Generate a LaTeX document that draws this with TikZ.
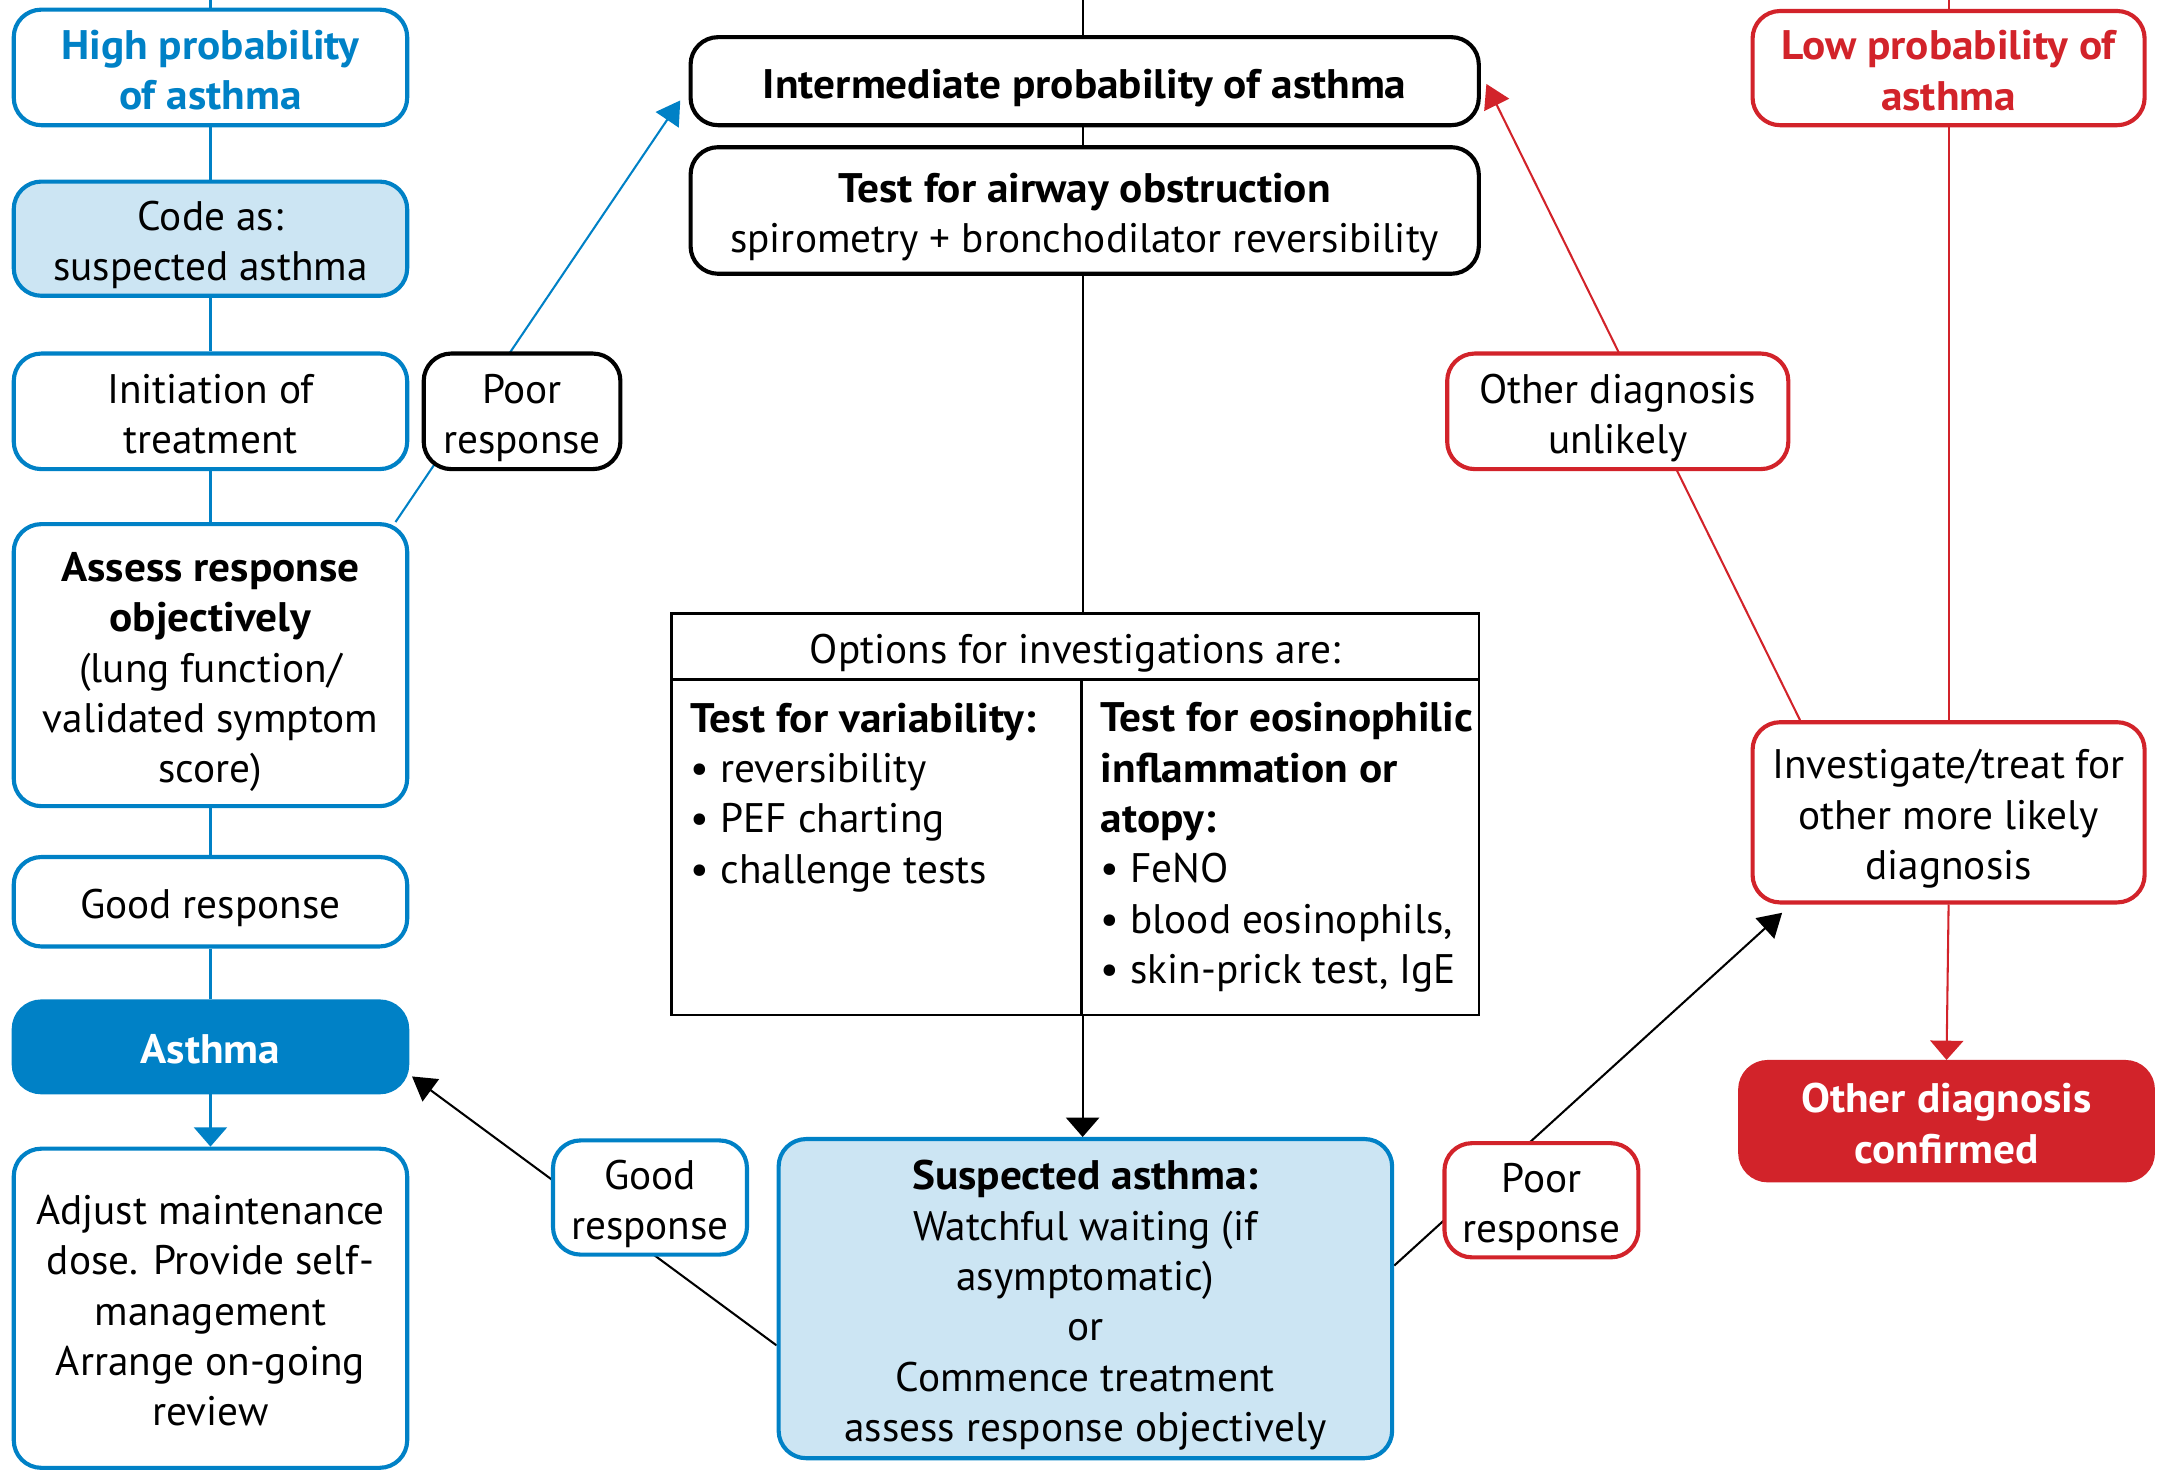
\documentclass[tikz,border=0pt]{standalone}
\usepackage{fontspec}
\setmainfont{PT Sans}[BoldFeatures={FakeStretch=1.05}]
\usetikzlibrary{arrows.meta,calc,backgrounds}
\definecolor{nblue}{HTML}{0081C6}
\definecolor{lblue}{HTML}{CCE5F3}
\definecolor{nred}{HTML}{D2232A}
\newcommand\bx[1]{\raisebox{-5pt}[\height][\depth]{\begin{tabular}{@{}c@{}}#1\end{tabular}}}
\begin{document}
\begin{tikzpicture}[x=1pt,y=-1pt,
  txt/.style={font=\fontsize{30}{36.6}\selectfont, align=center, inner sep=0pt},
  bold/.style={font=\fontsize{30}{36.6}\selectfont\bfseries},
  wh/.style 2 args={minimum width=#1pt, minimum height=#2pt},
  box/.style={font=\fontsize{30}{36.6}\selectfont, inner sep=0pt, rounded corners=20pt, line width=3pt, draw, fill=white},
  bbox/.style={box, draw=nblue},
  rbox/.style={box, draw=nred},
  kbox/.style={box, draw=black},
  conn/.style={line width=1.5pt},
  arrd/.style={-{Triangle[width=20pt,length=17pt]}},
  arrv/.style={-{Triangle[width=24pt,length=14pt]}},
]
\useasboundingbox (0,0) rectangle (1568,1069);

% left column
\node[bbox, wh={286}{84}, text=nblue, bold] (hp) at (153,49) {\bx{High probability\\of asthma}};
\node[bbox, wh={286}{83}, fill=lblue] (code) at (153,173.5) {\bx{Code as:\\suspected asthma}};
\node[bbox, wh={286}{84}] (init) at (153,299) {\bx{Initiation of\\treatment}};
\node[bbox, wh={286}{205}] (assess) at (153,483.5) {\bx{\textbf{Assess response}\\\textbf{objectively}\\(lung function/\\validated symptom\\score)}};
\node[bbox, wh={286}{65}] (good) at (153,655.5) {\bx{Good response}};
\node[bbox, wh={286}{66}, fill=nblue, text=white, bold] (asthma) at (153,761) {\bx{Asthma}};
\node[bbox, wh={286}{232}] (adjust) at (153,951) {\bx{Adjust maintenance\\dose. Provide self-\\management\\Arrange on-going\\review}};

% middle
\node[kbox, wh={143}{84}] (poorL) at (379.5,299) {\bx{Poor\\response}};
\node[kbox, wh={573}{64}, bold] (inter) at (788.5,59) {\bx{Intermediate probability of asthma}};
\node[kbox, wh={573}{92}] (test) at (788.5,153) {\bx{\textbf{Test for airway obstruction}\\spirometry + bronchodilator reversibility}};

\node[draw, line width=1.8pt, wh={587}{292}, inner sep=0pt] (opt) at (781.5,592) {};
\node[txt, anchor=base] (opthead) at (781.5,482) {Options for investigations are:};
\node[txt, align=left, anchor=base west] (optL) at (502,642) {\textbf{Test for variability:}\\•\ reversibility\\•\ PEF charting\\•\ challenge tests};
\node[txt, align=left, anchor=base west] (optR) at (800,715) {\textbf{Test for eosinophilic}\\\textbf{inflammation or}\\\textbf{atopy:}\\•\ FeNO\\•\ blood eosinophils,\\•\ skin-prick test, IgE};

\node[bbox, wh={446}{232}, fill=lblue] (susp) at (789,944) {\bx{\textbf{Suspected asthma:}\\Watchful waiting (if\\asymptomatic)\\or\\Commence treatment\\assess response objectively}};
\node[bbox, wh={141}{83}] (goodM) at (472.5,870.5) {\bx{Good\\response}};
\node[rbox, wh={141}{83}] (poorM) at (1120.5,872.5) {\bx{Poor\\response}};

% right column
\node[rbox, wh={285}{83}, text=nred, bold] (low) at (1416.5,49.5) {\bx{Low probability of\\asthma}};
\node[rbox, wh={248}{84}] (odu) at (1176,299) {\bx{Other diagnosis\\unlikely}};
\node[rbox, wh={285}{131}] (inv) at (1416.5,590.5) {\bx{Investigate/treat for\\other more likely\\diagnosis}};
\node[rbox, wh={300}{86}, fill=nred, text=white, bold] (odc) at (1415,815) {\bx{Other diagnosis\\confirmed}};

\coordinate (t1) at (153,0);
\coordinate (t2) at (787,0);
\coordinate (t3) at (1416.5,0);

\begin{scope}[on background layer]
\draw[line width=1.8pt] ($(opt.north west)+(0,49)$) -- ($(opt.north east)+(0,49)$);
\draw[line width=1.8pt] ($(opt.north west)+(299,49)$) -- ($(opt.south west)+(299,0)$);
\draw[conn, nblue] (t1) -- (hp.north);
\draw[conn, nblue] (hp.south) -- (code.north);
\draw[conn, nblue] (code.south) -- (init.north);
\draw[conn, nblue] (init.south) -- (assess.north);
\draw[conn, nblue] (assess.south) -- (good.north);
\draw[conn, nblue] (good.south) -- (asthma.north);
\draw[conn, nblue, arrv] (asthma.south) -- (adjust.north);
\draw[conn] (t2) -- (t2 |- inter.north);
\draw[conn] (t2 |- inter.south) -- (t2 |- test.north);
\draw[conn] (t2 |- test.south) -- (t2 |- opt.north);
\draw[conn, arrv] (t2 |- opt.south) -- (t2 |- susp.north);
\draw[conn, nblue, arrd] ($(assess.north east)+(-10,0)$) -- ($(inter.west)+(-6,14)$);
\draw[conn, nred, arrd] ($(inv.north west)+(36,0)$) -- ($(inter.east)+(4,2)$);
\draw[conn, arrd] ($(susp.west)+(0,34)$) -- ($(asthma.south east)+(2,-13)$);
\draw[conn, arrd] ($(susp.east)+(0,-24)$) -- ($(inv.south west)+(23,6)$);
\draw[conn, nred] (t3) -- (low.north);
\draw[conn, nred] (low.south) -- (inv.north);
\draw[conn, nred, arrv] (inv.south) -- (odc.north);
\end{scope}
\end{tikzpicture}
\end{document}
